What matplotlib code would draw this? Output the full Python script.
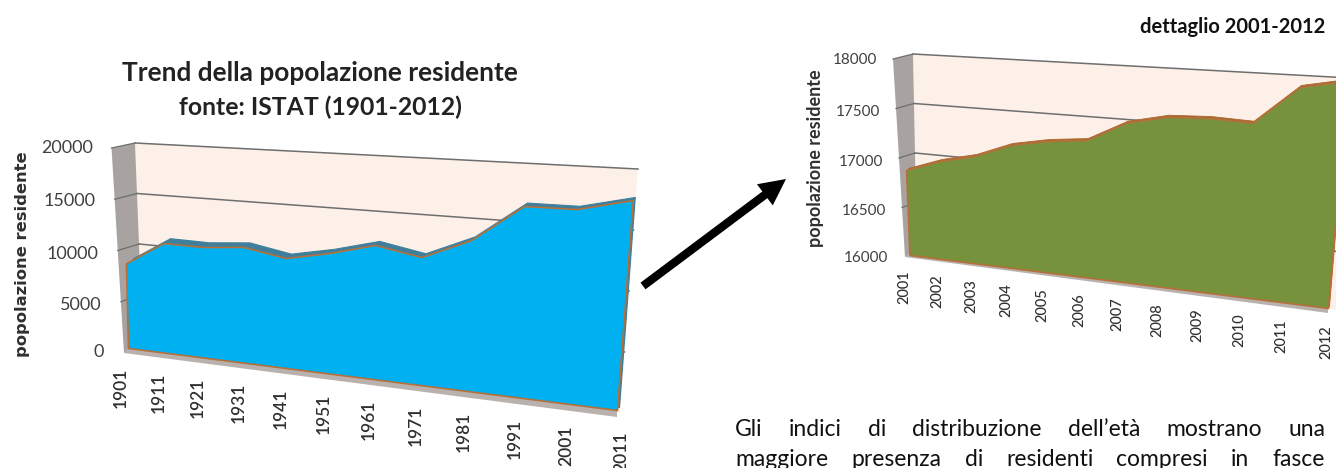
import numpy as np
import matplotlib
matplotlib.use("Agg")
import matplotlib.pyplot as plt
from matplotlib.transforms import Transform
from matplotlib.patches import FancyArrowPatch

# ---- data ----
years_long = ["1901","1911","1921","1931","1941","1951","1961","1971","1981","1991","2001","2011"]
pop_long = [8260,10410,10210,10390,9590,10210,11050,10230,11730,14450,14290,15000]
ticks_long = [0,5000,10000,15000,20000]
years_detail = ["2001","2002","2003","2004","2005","2006","2007","2008","2009","2010","2011","2012"]
pop_detail = [16850,16962,17032,17156,17211,17236,17406,17471,17472,17445,17748,17802]
ticks_detail = [16000,16500,17000,17500,18000]
title_lines = ["Trend della popolazione residente","fonte: ISTAT (1901-2012)"]
detail_title = "dettaglio 2001-2012"
ylabel = "popolazione residente"
para_lines = ["Gli indici di distribuzione dell\u2019et\u00e0 mostrano una",
              "maggiore presenza di residenti compresi in fasce"]

W, H = 1336, 468
TEXT = "#404040"
EDGE = "#b5703a"
WALL = "#fdf0e8"
SIDE = "#a8a3a0"
FLOOR = "#b9b1ae"
GRID = "#6e6e6e"


class Plane(Transform):
    """Perspective plane: (category index, value) -> canvas pixels."""
    input_dims = output_dims = 2
    is_separable = False
    has_inverse = False

    def __init__(self, p0, p1, h, tilt, n, vr, w):
        super().__init__()
        self.p0, self.p1, self.h, self.tilt = p0, p1, h, tilt
        self.n, self.vr, self.w = n, vr, w

    def transform_non_affine(self, pts):
        pts = np.asarray(pts, float)
        t = pts[:, 0] / (self.n - 1)
        f = t / (self.w * (1 - t) + t)
        r = (pts[:, 1] - self.vr[0]) / (self.vr[1] - self.vr[0])
        x = self.p0[0] + (self.p1[0] - self.p0[0]) * f + r * (self.tilt[0] + (self.tilt[1] - self.tilt[0]) * f)
        y = self.p0[1] + (self.p1[1] - self.p0[1]) * f - r * (self.h[0] + (self.h[1] - self.h[0]) * f)
        return np.column_stack([x, y])


plt.rcParams["font.family"] = ["Lato", "DejaVu Sans"]
fig = plt.figure(figsize=(W / 100, H / 100), dpi=100)
ax = fig.add_axes([0, 0, 1, 1])
ax.set_xlim(0, W)
ax.set_ylim(H, 0)
ax.axis("off")
ax.autoscale(False)


def chart(values, cats, ticks, col, ridge_col, front, back, outer, ridge, lab, tick_pos, fs_tick, fs_cat, cat_weight, ridge_lw):
    n = len(values)
    idx = np.arange(n)
    vr = (ticks[0], ticks[-1])
    T = lambda pl: pl + ax.transData

    wall_x = [0, n - 1, n - 1, 0]
    wall_y = [vr[0], vr[0], vr[1], vr[1]]
    ax.fill(wall_x, wall_y, color=WALL, lw=0, transform=T(back), zorder=1)
    o = outer.transform(np.array([[0, vr[0]], [0, vr[1]]]))
    b = back.transform(np.array([[0, vr[1]], [0, vr[0]]]))
    ax.fill(np.r_[o[:, 0], b[:, 0]], np.r_[o[:, 1], b[:, 1]], color=SIDE, lw=0, zorder=1.5)
    for v in ticks[1:]:
        ax.plot([0, n - 1], [v, v], color=GRID, lw=1.1, transform=T(back), zorder=2)
        po = outer.transform(np.array([[0, v]]))[0]
        pb = back.transform(np.array([[0, v]]))[0]
        ax.plot([po[0], pb[0]], [po[1], pb[1]], color=GRID, lw=0.9, zorder=2)
    fo = outer.transform(np.column_stack([[0, n - 1], [vr[0], vr[0]]]))
    ff = front.transform(np.column_stack([[n - 1, 0], [vr[0], vr[0]]]))
    ax.fill(np.r_[fo[:, 0], ff[:, 0]], np.r_[fo[:, 1], ff[:, 1]], color=FLOOR, lw=0, zorder=2.5)
    ax.fill_between(idx, vr[0], values, color=ridge_col, lw=ridge_lw, transform=T(ridge), zorder=3)
    ax.fill_between(idx, vr[0], values, facecolor=col, edgecolor=EDGE, lw=1.2, transform=T(front), zorder=4)

    for v, (xr, yc) in zip(ticks, tick_pos):
        ax.text(xr, yc, str(v), ha="right", va="center", fontsize=fs_tick, color=TEXT)
    for i, c in enumerate(cats):
        ax.text(i, vr[0], c, rotation=90, ha="center", va="top", fontsize=fs_cat, fontweight=cat_weight,
                color="#303030", transform=T(lab), clip_on=True)


chart(pop_long, years_long, ticks_long, "#00b0f0", "#3f7f9c",
      Plane((128, 348), (617, 410), (205, 280), (-5, 21), 12, (0, 20000), 1.22),
      Plane((143, 345), (620, 413), (202, 244), (-8, 18), 12, (0, 20000), 1.22),
      Plane((124, 353), (617, 417), (205, 280), (-12.5, 21), 12, (0, 20000), 1.22),
      Plane((135, 343), (619, 407), (205, 280), (-5, 21), 12, (0, 20000), 1.22),
      Plane((121, 368), (621, 432), (205, 280), (0, 0), 12, (0, 20000), 1.22),
      [(104, 352), (102, 305), (98, 254), (96, 201), (93, 148)], 13, 12.5, "semibold", 0.8)

chart(pop_detail, years_detail, ticks_detail, "#76923c", "#a8682f",
      Plane((909.5, 255), (1328, 308), (200, 252), (-8, 21), 12, (16000, 18000), 1.17),
      Plane((917, 252), (1338, 310), (198, 232), (-4, 12), 12, (16000, 18000), 1.17),
      Plane((905, 257), (1328, 313), (198, 252), (-12, 21), 12, (16000, 18000), 1.17),
      Plane((911.5, 253), (1329, 306), (200, 252), (-8, 21), 12, (16000, 18000), 1.17),
      Plane((904, 270), (1326, 325), (200, 252), (0, 0), 12, (16000, 18000), 1.17),
      [(888, 258), (886, 211), (883, 162), (880, 112), (877, 60)], 11, 10.5, "medium", 0.6)

# axis titles
ax.text(23, 254, ylabel, rotation=90, ha="center", va="center", fontsize=11.8, fontweight="bold",
        color="#303030", family=["DejaVu Sans"])
ax.text(815, 158, ylabel, rotation=90, ha="center", va="center", fontsize=13, fontweight="bold",
        color="#303030")

# titles
ax.text(320, 73, title_lines[0], ha="center", va="center", fontsize=18.9, fontweight="bold", color="#222222")
ax.text(320, 107, title_lines[1], ha="center", va="center", fontsize=17.8, fontweight="bold", color="#222222")
ax.text(1325, 27, detail_title, ha="right", va="center", fontsize=14.5, fontweight="bold", color="#111111")

# arrow
ax.add_patch(FancyArrowPatch((643, 286), (786, 179),
                             arrowstyle="simple,head_length=19,head_width=19,tail_width=6",
                             mutation_scale=1, color="black", lw=0, zorder=6, shrinkA=0, shrinkB=0))


def justified(line, x0, x1, y, size):
    words = line.split(" ")
    r = fig.canvas.get_renderer()
    arts = [ax.text(0, y, w, ha="left", va="baseline", fontsize=size, color="#111111", clip_on=True) for w in words]
    wid = [a.get_window_extent(r).width for a in arts]
    gap = (x1 - x0 - sum(wid)) / (len(words) - 1)
    x = x0
    for a, wd in zip(arts, wid):
        a.set_x(x)
        x += wd + gap


justified(para_lines[0], 735, 1325, 436, 16.5)
justified(para_lines[1], 735, 1325, 466, 16.5)

fig.savefig("out.png", dpi=100)
